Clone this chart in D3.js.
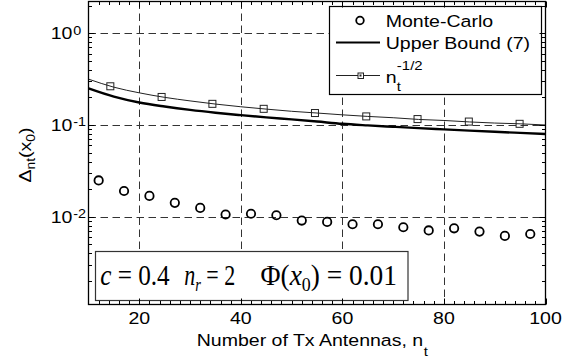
<!DOCTYPE html>
<html><head><meta charset="utf-8">
<script src="https://cdn.jsdelivr.net/npm/d3@7"></script>
<style>body{margin:0;background:#fff} svg{display:block}</style>
</head><body>
<svg id="c" width="574" height="362"></svg>
<script>
// ---- data ----
const mcN   = [12,17,22,27,32,37,42,47,52,57,62,67,72,77,82,87,92,97];
const mcVal = [0.0249,0.0191,0.0169,0.0142,0.0125,0.0106,0.0108,0.0104,0.0091,0.0088,0.0083,0.0083,0.0077,0.0071,0.0075,0.0069,0.0062,0.0065];
const boundN   = [10,15,20,25,30,35,40,45,50,55,60,65,70,75,80,85,90,95,100];
const boundVal = [0.251,0.204,0.176,0.159,0.146,0.136,0.128,0.121,0.115,0.109,0.103,0.099,0.0956,0.0924,0.0895,0.0868,0.0843,0.082,0.0798];
const refN   = [10,15,20,25,30,35,40,45,50,55,60,65,70,75,80,85,90,95,100];
const refVal = [0.316,0.258,0.224,0.200,0.183,0.169,0.158,0.149,0.141,0.135,0.129,0.124,0.120,0.115,0.112,0.108,0.105,0.103,0.100];
const sqN   = [14.3,24.4,34.4,44.5,54.6,64.7,74.8,84.9,94.9];
const sqVal = [0.264,0.202,0.170,0.150,0.135,0.124,0.116,0.109,0.103];
const xTicks = [20,40,60,80,100];
const xTickLabels = ["20","40","60","80","100"];
const xGrid = [20,40,60,80];
const yTicks = [1,0.1,0.01];
const yTickExp = ["0","-1","-2"];
const legendLabels = ["Monte-Carlo","Upper Bound (7)","n"];

// ---- layout ----
const L=88.5, R=545.5, T=1.5, B=304.5;
const SX=1.15, FS=17, SANS="'Liberation Sans', Arial, sans-serif", SERIF="'Liberation Serif','Times New Roman',serif";
const svg=d3.select("#c");
const x=d3.scaleLinear().domain([10,100]).range([L,R]);
const y=d3.scaleLog().domain([Math.pow(10,-2.955),Math.pow(10,0.345)]).range([B,T]);

svg.append("rect").attr("width",574).attr("height",362).attr("fill","#fff");

// grid
const grid=svg.append("g").attr("stroke","#333").attr("stroke-width",1).attr("stroke-dasharray","7.5,4.5").attr("fill","none");
grid.selectAll("line.v").data(xGrid).join("line").attr("class","v")
  .attr("x1",d=>Math.round(x(d))+0.5).attr("x2",d=>Math.round(x(d))+0.5).attr("y1",T).attr("y2",B);
grid.selectAll("line.h").data(yTicks).join("line").attr("class","h")
  .attr("y1",d=>Math.round(y(d))+0.5).attr("y2",d=>Math.round(y(d))+0.5).attr("x1",L).attr("x2",R);

// lines
const line=d3.line().x(d=>x(d[0])).y(d=>y(d[1])).curve(d3.curveMonotoneX);
svg.append("path").datum(refN.map((n,i)=>[n,refVal[i]])).attr("d",line)
  .attr("fill","none").attr("stroke","#222").attr("stroke-width",1);
svg.append("path").datum(boundN.map((n,i)=>[n,boundVal[i]])).attr("d",line)
  .attr("fill","none").attr("stroke","#000").attr("stroke-width",2.4);
svg.selectAll("rect.sq").data(sqN.map((n,i)=>[n,sqVal[i]])).join("rect").attr("class","sq")
  .attr("x",d=>x(d[0])-3.5).attr("y",d=>y(d[1])-3.5).attr("width",7).attr("height",7)
  .attr("fill","none").attr("stroke","#222").attr("stroke-width",1);
svg.selectAll("circle.mc").data(mcN.map((n,i)=>[n,mcVal[i]])).join("circle").attr("class","mc")
  .attr("cx",d=>x(d[0])).attr("cy",d=>y(d[1])).attr("r",4.2)
  .attr("fill","none").attr("stroke","#000").attr("stroke-width",1.8);

// helper for stretched text
function stxt(g,str,tx,ty,anchor,size,fam){
  return g.append("text").attr("transform",`translate(${tx},${ty}) scale(${SX},1)`)
    .attr("text-anchor",anchor||"start").attr("font-family",fam||SANS).attr("font-size",size||FS)
    .attr("fill","#000").text(str);
}

// legend
const lg=svg.append("g");
lg.append("rect").attr("x",329.5).attr("y",6.5).attr("width",212).attr("height",88).attr("fill","#fff").attr("stroke","#000").attr("stroke-width",1.2);
lg.append("circle").attr("cx",360).attr("cy",20.5).attr("r",3.8).attr("fill","none").attr("stroke","#000").attr("stroke-width",1.8);
lg.append("line").attr("x1",336).attr("x2",380).attr("y1",42.5).attr("y2",42.5).attr("stroke","#000").attr("stroke-width",2.2);
lg.append("line").attr("x1",336).attr("x2",380).attr("y1",75.5).attr("y2",75.5).attr("stroke","#222").attr("stroke-width",1);
lg.append("rect").attr("x",358).attr("y",73).attr("width",5.5).attr("height",5.5).attr("fill","#fff").attr("stroke","#222").attr("stroke-width",1);
lg.append("rect").attr("x",359.5).attr("y",74.5).attr("width",2).attr("height",2).attr("fill","#222");
stxt(lg,legendLabels[0],385.7,26.8);
stxt(lg,legendLabels[1],385.7,49.3);
const ln=stxt(lg,legendLabels[2],385.7,83);
const lnw=ln.node().getComputedTextLength()*SX;
stxt(lg,"t",385.7+lnw+0.3,90.7,"start",13);
stxt(lg,"-1/2",385.7+lnw+0.3,70,"start",13);

// text box
const tb=svg.append("g");
tb.append("rect").attr("x",95.5).attr("y",251.5).attr("width",312.5).attr("height",49).attr("fill","#fff").attr("stroke","#333").attr("stroke-width",1.2);
const bl=284.5;
function grp(x0,width,parts){
  const t=tb.append("text").attr("transform",`translate(${x0},${bl})`)
    .attr("font-family",SERIF).attr("font-size",29).attr("fill","#000").attr("xml:space","preserve");
  let sub=false;
  parts.forEach(p=>{
    const ts=t.append("tspan").text(p.s);
    if(p.i) ts.attr("font-style","italic");
    if(p.sub){ts.attr("font-size",19).attr("dy",6);sub=true;}
    else if(sub){ts.attr("dy",-6);sub=false;}
  });
  const w=t.node().getBBox().width;
  t.attr("transform",`translate(${x0},${bl}) scale(${width/w},1)`);
}
grp(100.2,70,[{s:"c",i:1},{s:" = 0.4"}]);
grp(184.2,51,[{s:"n",i:1},{s:"r",i:1,sub:1},{s:" = 2"}]);
grp(260.5,136.5,[{s:"Φ("},{s:"x",i:1},{s:"0",sub:1},{s:") = 0.01"}]);

// axes ticks
const ax=svg.append("g").attr("stroke","#000").attr("stroke-width",1);
const xMinor=d3.range(12,100,2).filter(v=>v%20!==0);
const yMinor=[];
[-3,-2,-1,0].forEach(e=>{for(let k=2;k<=9;k++){const v=k*Math.pow(10,e); if(v>y.domain()[0]&&v<y.domain()[1]) yMinor.push(v);}});
function ticksX(vals,len){
  vals.forEach(v=>{const px=Math.round(x(v))+0.5;
    ax.append("line").attr("x1",px).attr("x2",px).attr("y1",B).attr("y2",B-len);
    ax.append("line").attr("x1",px).attr("x2",px).attr("y1",T).attr("y2",T+len);});
}
function ticksY(vals,len){
  vals.forEach(v=>{const py=Math.round(y(v))+0.5;
    ax.append("line").attr("x1",L).attr("x2",L+len).attr("y1",py).attr("y2",py);
    ax.append("line").attr("x1",R).attr("x2",R-len).attr("y1",py).attr("y2",py);});
}
ticksX(xTicks,6); ticksX(xMinor,3.5);
ticksY(yTicks,6); ticksY(yMinor,3.5);
svg.append("rect").attr("x",L).attr("y",T).attr("width",R-L).attr("height",B-T).attr("fill","none").attr("stroke","#000").attr("stroke-width",1.3);

// tick labels
const tl=svg.append("g");
xTicks.forEach((v,i)=>stxt(tl,xTickLabels[i],x(v),324.3,"middle"));
yTicks.forEach((v,i)=>{
  const gy=y(v);
  const t=stxt(tl,"10",50.7,gy+6.1,"start");
  const w=t.node().getComputedTextLength()*SX;
  stxt(tl,yTickExp[i],50.7+w+0.8,gy+1.5,"start",12.5);
});

// axis titles
const xt=stxt(svg,"Number of Tx Antennas, n",196.7,345.7,"start");
const xw=xt.node().getComputedTextLength()*SX;
stxt(svg,"t",196.7+xw+0.5,356,"start",13);

const yl=svg.append("text").attr("transform","translate(30.5,155) rotate(-90) scale(1.15,1)")
  .attr("text-anchor","middle").attr("font-family",SANS).attr("font-size",FS).attr("fill","#000");
yl.append("tspan").text("Δ");
yl.append("tspan").attr("font-size",12).attr("dy",4).text("nt");
yl.append("tspan").attr("dy",-4).text("(x");
yl.append("tspan").attr("font-size",12).attr("dy",4).text("0");
yl.append("tspan").attr("dy",-4).text(")");
</script>
</body></html>
